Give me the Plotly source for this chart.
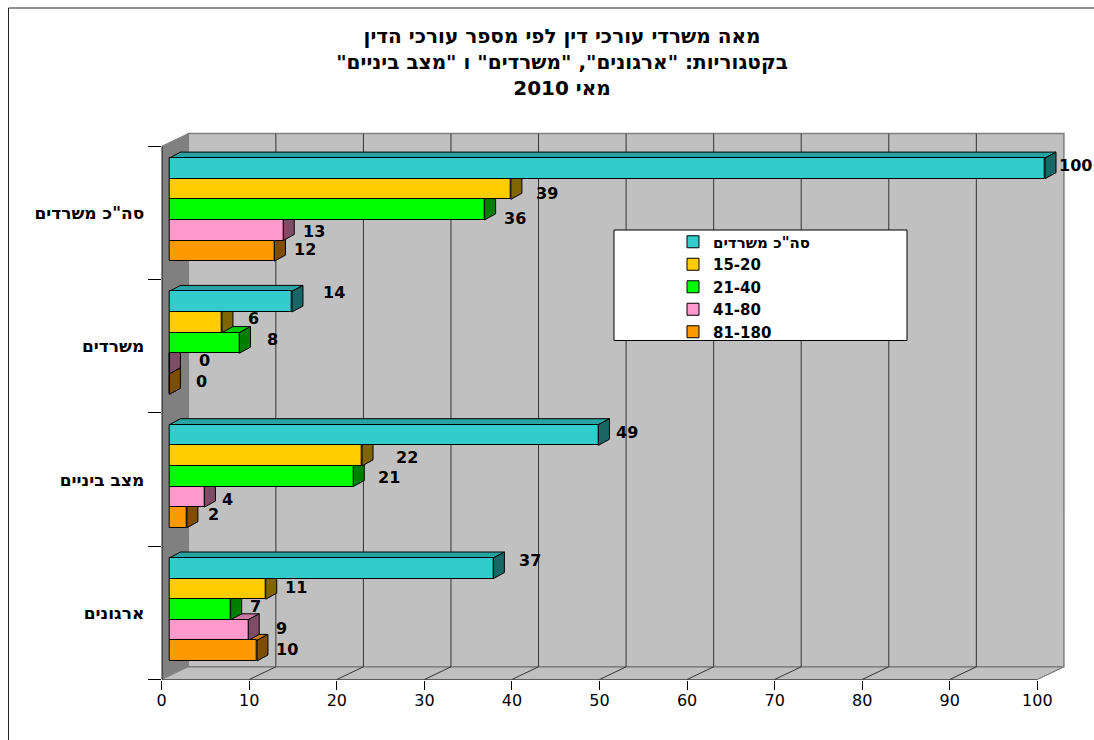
import plotly.graph_objects as go

categories = ["ארגונים", "מצב ביניים", "משרדים", 'סה"כ משרדים']
series_names = ['סה"כ משרדים', "15-20", "21-40", "41-80", "81-180"]
total_offices = [37, 49, 14, 100]
size_15_20 = [11, 22, 6, 39]
size_21_40 = [7, 21, 8, 36]
size_41_80 = [9, 4, 0, 13]
size_81_180 = [10, 2, 0, 12]
series_values = [total_offices, size_15_20, size_21_40, size_41_80, size_81_180]
x_ticks = list(range(0, 101, 10))
title_lines = ['מאה משרדי עורכי דין לפי מספר עורכי הדין',
               'בקטגוריות: "ארגונים", "משרדים" ו "מצב ביניים"',
               'מאי 2010']

# --- styling / geometry (pixels on the 1094x740 page)
W, H = 1094, 740
PX_X0, PX_PER_UNIT = 161.7, 8.756
PX_Y0, PX_PER_GROUP = 679.5, 133.3
WALL_DX, WALL_DY = 26.6 / PX_PER_UNIT, 12.7 / PX_PER_GROUP
BAR_BASE = 7.7 / PX_PER_UNIT
BAR_DX, BAR_DY = 11 / PX_PER_UNIT, 6 / PX_PER_GROUP
BAR_H = 20.6 / PX_PER_GROUP
BAR_TOP = (PX_Y0 - 558) / PX_PER_GROUP
colors = ["#33CCCC", "#FFCC00", "#00FF00", "#FF99CC", "#FF9900"]
FONT = "DejaVu Sans"
RLM = "\u200f"

# label offsets from the end of the bar (px): [series][group]
label_dx = [[37, 29, 42, 30], [30, 45, 32, 36], [25, 36, 33, 30], [33, 23, 35, 31], [30, 27, 32, 31]]
label_dy = [[-8, -3, -9, -3], [-1, 2, -4, 4], [-3, 1, -3, 9], [-2, 3, -3, 1], [-1, -3, -3, -1]]


def shade(hex_color, f):
    r, g, b = (int(hex_color[i:i + 2], 16) for i in (1, 3, 5))
    return f"rgb({int(r * f)},{int(g * f)},{int(b * f)})"


def poly(xs, ys, fill, line="black", width=1):
    return go.Scatter(x=xs + xs[:1], y=ys + ys[:1], mode="lines", fill="toself", fillcolor=fill,
                      line=dict(color=line, width=width), showlegend=False, hoverinfo="skip",
                      cliponaxis=False)


def path(xs, ys, color, width=1):
    return go.Scatter(x=xs, y=ys, mode="lines", line=dict(color=color, width=width),
                      showlegend=False, hoverinfo="skip", cliponaxis=False)


fig = go.Figure()
n_groups = len(categories)
X_MAX, Y_MAX = x_ticks[-1], n_groups

# walls and floor
fig.add_trace(poly([0, 0, WALL_DX, WALL_DX], [0, Y_MAX, Y_MAX + WALL_DY, WALL_DY], "#808080", "#808080"))
fig.add_trace(poly([0, X_MAX, X_MAX + WALL_DX, WALL_DX], [0, 0, WALL_DY, WALL_DY], "#C0C0C0", "#808080"))
fig.add_trace(poly([WALL_DX, X_MAX + WALL_DX, X_MAX + WALL_DX, WALL_DX],
                   [WALL_DY, WALL_DY, Y_MAX + WALL_DY, Y_MAX + WALL_DY], "#C0C0C0", "#808080", 1.5))
for v in x_ticks[1:-1]:
    fig.add_trace(path([v, v + WALL_DX, v + WALL_DX], [0, WALL_DY, Y_MAX + WALL_DY], "#333333"))
fig.add_trace(path([0, 0], [0, Y_MAX], "black", 1.5))
fig.add_trace(path([0, X_MAX], [0, 0], "black"))
fig.add_trace(path([X_MAX, X_MAX + WALL_DX], [0, WALL_DY], "#808080"))


def bar_center(g, s):
    return g + BAR_TOP - (s + 0.5) * BAR_H


# top and side faces, lower bars first
for g in range(n_groups):
    for s in reversed(range(len(series_values))):
        v = series_values[s][g]
        c = bar_center(g, s)
        top, bot = c + BAR_H / 2, c - BAR_H / 2
        end = BAR_BASE + v
        fig.add_trace(poly([BAR_BASE, end, end + BAR_DX, BAR_BASE + BAR_DX],
                           [top, top, top + BAR_DY, top + BAR_DY], shade(colors[s], 0.8)))
        fig.add_trace(poly([end, end, end + BAR_DX, end + BAR_DX],
                           [top, bot, bot + BAR_DY, top + BAR_DY], shade(colors[s], 0.5)))

# front faces on an overlaid axis pair so they cover the faces of lower bars
for s, name in enumerate(series_names):
    fig.add_trace(go.Bar(x=series_values[s], y=[bar_center(g, s) for g in range(n_groups)],
                         base=BAR_BASE, orientation="h", width=BAR_H, name=name,
                         marker=dict(color=colors[s], line=dict(color="black", width=1)),
                         xaxis="x2", yaxis="y2", hoverinfo="skip"))

annotations = []
for s, vals in enumerate(series_values):
    for g, v in enumerate(vals):
        annotations.append(dict(x=BAR_BASE + v, y=bar_center(g, s), xref="x", yref="y", text=f"<b>{v}</b>",
                                showarrow=False, xanchor="center", yanchor="middle",
                                xshift=label_dx[s][g], yshift=-label_dy[s][g],
                                font=dict(family=FONT, size=16, color="black")))

x_range = [0, (W - PX_X0) / PX_PER_UNIT]
y_range = [0, PX_Y0 / PX_PER_GROUP]
x_dom = [PX_X0 / W, 1]
y_dom = [(H - PX_Y0) / H, 1]

shapes = [
    dict(type="rect", xref="paper", yref="paper", x0=614 / W, x1=907 / W, y0=1 - 340.5 / H, y1=1 - 230 / H,
         fillcolor="white", line=dict(color="black", width=1), layer="above"),
    dict(type="line", xref="paper", yref="paper", x0=8.5 / W, x1=1, y0=1 - 8 / H, y1=1 - 8 / H,
         line=dict(color="#222222", width=1)),
    dict(type="line", xref="paper", yref="paper", x0=8.5 / W, x1=8.5 / W, y0=0, y1=1 - 8 / H,
         line=dict(color="#222222", width=1)),
]

fig.update_layout(
    width=W, height=H, autosize=False, margin=dict(l=0, r=0, t=0, b=0),
    paper_bgcolor="white", plot_bgcolor="rgba(0,0,0,0)", barmode="overlay", bargap=0,
    title=dict(text="<b>" + "<br>".join(RLM + t + RLM for t in title_lines) + "</b>", x=562 / W, xanchor="center",
               y=1 - 43 / H, yanchor="top", automargin=False, font=dict(family=FONT, size=20, color="black")),
    xaxis=dict(domain=x_dom, range=x_range, tickmode="array", tickvals=x_ticks, ticks="outside", ticklen=9,
               tickcolor="black", showgrid=False, zeroline=False, showline=False, automargin=False,
               ticklabelstandoff=-3, tickfont=dict(family=FONT, size=16, color="black")),
    yaxis=dict(domain=y_dom, range=y_range, tickmode="array",
               tickvals=[g + 0.5 for g in range(n_groups)], ticktext=[f"<b>{c}</b>" for c in categories],
               ticks="outside", ticklen=13, tickcolor="rgba(0,0,0,0)", showgrid=False, zeroline=False,
               showline=False, automargin=False, tickfont=dict(family=FONT, size=17, color="black"),
               minor=dict(tickmode="array", tickvals=list(range(n_groups + 1)), ticks="outside", ticklen=13,
                          tickcolor="black", showgrid=False)),
    xaxis2=dict(domain=x_dom, range=x_range, overlaying="x", visible=False, anchor="y2", automargin=False),
    yaxis2=dict(domain=y_dom, range=y_range, overlaying="y", visible=False, anchor="x2", automargin=False),
    legend=dict(x=673 / W, xanchor="left", y=1 - 225.5 / H, yanchor="top", bgcolor="rgba(0,0,0,0)",
                traceorder="normal", font=dict(family=FONT, size=15, color="black", weight="bold")),
    shapes=shapes, annotations=annotations, hovermode=False,
)

fig.write_html("out.html", config={"displayModeBar": False},
               post_script="document.body.style.margin='0';document.body.style.overflow='hidden';")
